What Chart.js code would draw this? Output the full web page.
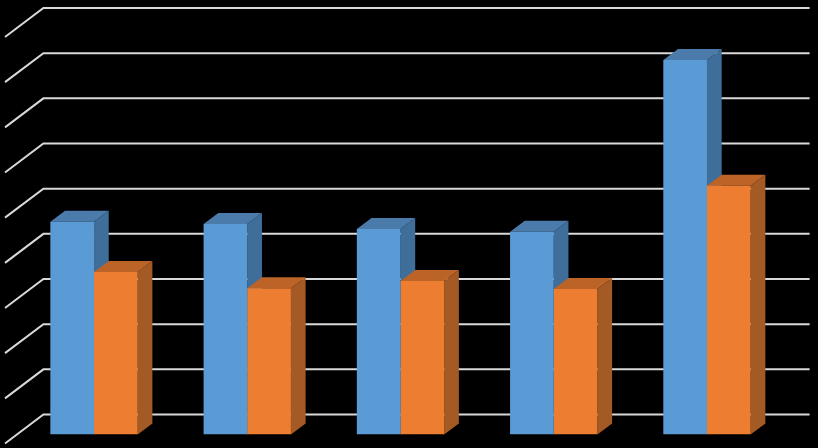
<!DOCTYPE html>
<html>
<head>
<meta charset="utf-8">
<style>
html,body{margin:0;padding:0;background:#000;overflow:hidden}
canvas{display:block}
</style>
<script src="https://cdn.jsdelivr.net/npm/chart.js@4/dist/chart.umd.min.js"></script>
</head>
<body>
<canvas id="c" width="818" height="448"></canvas>
<script>
const categories = ["1", "2", "3", "4", "5"];
const seriesBlue = [4.71, 4.66, 4.55, 4.49, 8.29];
const seriesOrange = [3.60, 3.24, 3.40, 3.22, 5.51];
const axisMax = 9;
const axisStep = 1;

const frontColors = ["#5B9BD5", "#ED7D31"];
const sideColors = ["#3F6E9B", "#A45A24"];
const topColors = ["#4A7BAA", "#BC6427"];
const gridColor = "#D9D9D9";

// projection of the 3D box, in pixels
const barDepthX = 14.7, barDepthY = 11;
const wallBackX = 26, wallBackY = 20;
const wallFrontX = 12.4, wallFrontY = 9;

const box3d = {
  id: "box3d",
  beforeDatasetsDraw(chart) {
    const { ctx, chartArea, scales } = chart;
    const y = scales.y;
    ctx.save();
    ctx.strokeStyle = gridColor;
    ctx.lineWidth = 2;
    ctx.lineCap = "butt";
    ctx.lineJoin = "miter";
    y.ticks.forEach(t => {
      const py = y.getPixelForValue(t.value);
      ctx.beginPath();
      ctx.moveTo(chartArea.left - wallFrontX, py + wallFrontY);
      ctx.lineTo(chartArea.left + wallBackX, py - wallBackY);
      ctx.lineTo(chartArea.right + wallBackX, py - wallBackY);
      ctx.stroke();
    });
    chart.data.datasets.forEach((ds, di) => {
      chart.getDatasetMeta(di).data.forEach(bar => {
        const p = bar.getProps(["x", "y", "base", "width"], true);
        const l = p.x - p.width / 2, r = p.x + p.width / 2;
        ctx.fillStyle = sideColors[di];
        ctx.beginPath();
        ctx.moveTo(r, p.y);
        ctx.lineTo(r + barDepthX, p.y - barDepthY);
        ctx.lineTo(r + barDepthX, p.base - barDepthY);
        ctx.lineTo(r, p.base);
        ctx.closePath();
        ctx.fill();
        ctx.fillStyle = topColors[di];
        ctx.beginPath();
        ctx.moveTo(l, p.y);
        ctx.lineTo(l + barDepthX, p.y - barDepthY);
        ctx.lineTo(r + barDepthX, p.y - barDepthY);
        ctx.lineTo(r, p.y);
        ctx.closePath();
        ctx.fill();
      });
    });
    ctx.restore();
  }
};

new Chart(document.getElementById("c"), {
  type: "bar",
  data: {
    labels: categories,
    datasets: [
      { label: "Series 1", data: seriesBlue, backgroundColor: frontColors[0], borderWidth: 0 },
      { label: "Series 2", data: seriesOrange, backgroundColor: frontColors[1], borderWidth: 0 }
    ]
  },
  options: {
    responsive: false,
    animation: false,
    layout: { padding: { left: 17.4, right: 34.4, top: 28, bottom: 13.5 } },
    plugins: { legend: { display: false }, tooltip: { enabled: false } },
    datasets: { bar: { barPercentage: 1, categoryPercentage: 0.57 } },
    scales: {
      x: { display: false },
      y: { display: false, min: 0, max: axisMax, ticks: { stepSize: axisStep } }
    }
  },
  plugins: [box3d]
});
</script>
</body>
</html>
